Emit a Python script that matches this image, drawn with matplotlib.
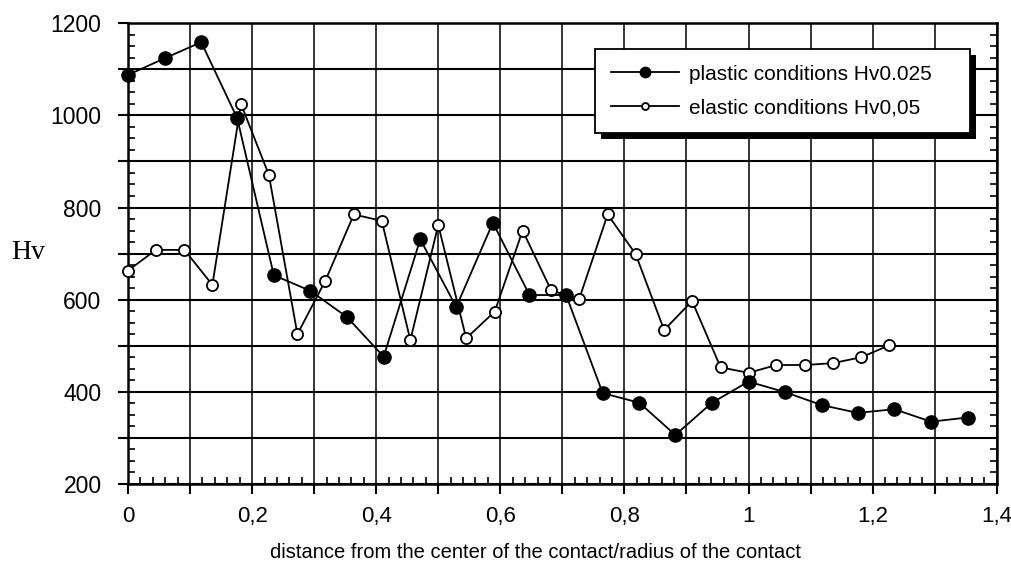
import matplotlib
matplotlib.use("Agg")
import matplotlib.pyplot as plt
from matplotlib.ticker import MultipleLocator, FuncFormatter
from matplotlib.lines import Line2D
from matplotlib.patches import Rectangle
from matplotlib.transforms import IdentityTransform

plt.rcParams['font.family'] = ['Liberation Sans', 'DejaVu Sans']

# ---- data ----
plastic_x = [0.0, 0.059, 0.118, 0.176, 0.235, 0.294, 0.353, 0.412, 0.471, 0.529,
             0.588, 0.647, 0.706, 0.765, 0.824, 0.882, 0.941, 1.0, 1.059, 1.118,
             1.176, 1.235, 1.294, 1.353]
plastic_hv = [1088, 1124, 1159, 994, 653, 619, 562, 476, 731, 584,
              767, 610, 610, 397, 376, 306, 376, 422, 399, 371,
              354, 362, 335, 344]

elastic_x = [0.0, 0.045, 0.091, 0.136, 0.182, 0.227, 0.273, 0.318, 0.364, 0.409,
             0.455, 0.5, 0.545, 0.591, 0.636, 0.682, 0.727, 0.773, 0.818, 0.864,
             0.909, 0.955, 1.0, 1.045, 1.091, 1.136, 1.182, 1.227]
elastic_hv = [663, 708, 708, 632, 1025, 871, 525, 641, 785, 771,
              512, 762, 516, 574, 750, 620, 601, 785, 699, 534,
              597, 453, 441, 458, 458, 462, 475, 501]

labels = ["plastic conditions Hv0.025", "elastic conditions Hv0,05"]
xlabel = "distance from the center of the contact/radius of the contact"
ylabel = "Hv"

fig = plt.figure(figsize=(10.11, 5.62), dpi=100)
ax = fig.add_axes([0.1266, 0.1391, 0.8593, 0.8194])

ax.plot(elastic_x, elastic_hv, color='black', lw=1.3, marker='o', ms=8,
        mfc='white', mec='black', mew=1.3, zorder=3, clip_on=False)
ax.plot(plastic_x, plastic_hv, color='black', lw=1.3, marker='o', ms=9.5,
        mfc='black', mec='black', zorder=4, clip_on=False)

ax.set_xlim(0, 1.4)
ax.set_ylim(200, 1200)

ax.xaxis.set_major_locator(MultipleLocator(0.1))
ax.xaxis.set_minor_locator(MultipleLocator(0.02))
ax.yaxis.set_major_locator(MultipleLocator(100))
ax.yaxis.set_minor_locator(MultipleLocator(25))


def xfmt(v, p):
    k = int(round(v * 10))
    if k % 2:
        return ''
    if k % 10 == 0:
        return str(k // 10)
    return f"{v:.1f}".replace('.', ',')


def yfmt(v, p):
    k = int(round(v))
    return str(k) if k % 200 == 0 else ''


ax.xaxis.set_major_formatter(FuncFormatter(xfmt))
ax.yaxis.set_major_formatter(FuncFormatter(yfmt))

ax.grid(True, which='major', axis='y', color='black', lw=1.5)
ax.grid(True, which='major', axis='x', color='black', lw=1.1)
ax.set_axisbelow(True)

ax.tick_params(axis='x', which='major', direction='out', length=7, width=1.5,
               top=False, pad=9, labelsize=16)
ax.tick_params(axis='x', which='minor', direction='in', length=5, width=1.2, top=False)
ax.tick_params(axis='y', which='major', direction='out', length=7, width=1.5,
               right=False, pad=12, labelsize=16.5)
ax.tick_params(axis='y', which='minor', direction='in', length=5, width=1.2,
               left=True, right=True)

for s in ax.spines.values():
    s.set_linewidth(1.8)
    s.set_color('black')

ax.set_xlabel(xlabel, fontsize=14.5, va='center')
ax.xaxis.set_label_coords(0.4685, -0.150)
ax.set_ylabel(ylabel, rotation=0, family=['Liberation Serif', 'DejaVu Serif'],
              fontsize=20, va='center', ha='center')
ax.yaxis.set_label_coords(-0.115, 0.503)

handles = [
    Line2D([], [], color='black', lw=1.3, marker='o', ms=7.5, mfc='black', mec='black'),
    Line2D([], [], color='black', lw=1.3, marker='o', ms=5, mfc='white', mec='black', mew=1.3),
]
leg = ax.legend(handles, labels, loc='upper left',
                bbox_to_anchor=(0.5376, 0.7726, 0.4316, 0.1714), mode='expand',
                fontsize=15, frameon=True, fancybox=False, shadow=False,
                handlelength=3.3, handletextpad=0.45, borderpad=0.75,
                labelspacing=0.7, borderaxespad=0.0)
leg.get_frame().set_edgecolor('black')
leg.get_frame().set_linewidth(1.3)
leg.get_frame().set_alpha(1.0)
leg.set_zorder(6)

fig.canvas.draw()
bb = leg.get_window_extent()
shadow = Rectangle((bb.x0 + 6, bb.y0 - 6), bb.width, bb.height,
                   transform=IdentityTransform(), facecolor='black',
                   edgecolor='none', zorder=5.5)
ax.add_artist(shadow)

fig.savefig("out.png", dpi=100)
